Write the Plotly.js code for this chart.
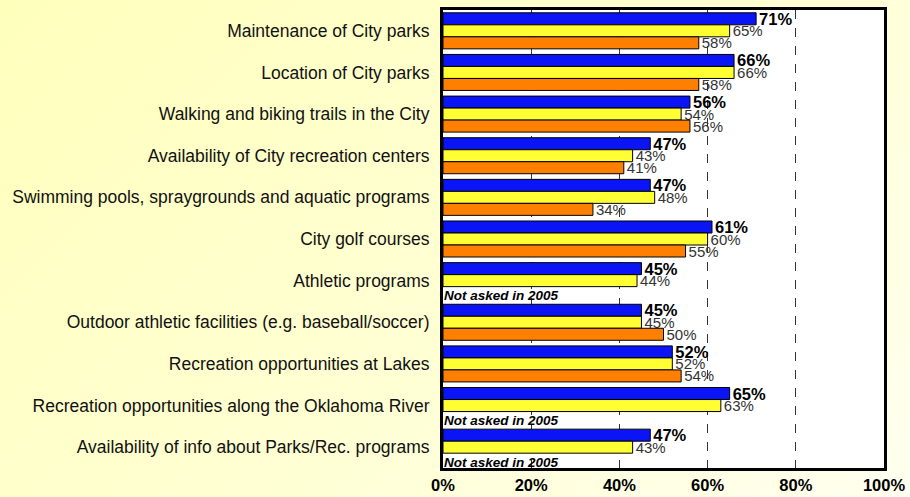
<!DOCTYPE html>
<html>
<head>
<meta charset="utf-8">
<script src="https://cdn.plot.ly/plotly-3.0.1.min.js"></script>
<style>
  html, body { margin: 0; padding: 0; }
  body { width: 910px; height: 497px; background: linear-gradient(135deg, #FFFFBC 0%, #FFFFD4 55%, #FFFFF0 100%); }
  #chart { width: 910px; height: 497px; }
</style>
</head>
<body>
<div id="chart"></div>
<script>
const categories = [
  "Maintenance of City parks",
  "Location of City parks",
  "Walking and biking trails in the City",
  "Availability of City recreation centers",
  "Swimming pools, spraygrounds and aquatic programs",
  "City golf courses",
  "Athletic programs",
  "Outdoor athletic facilities (e.g. baseball/soccer)",
  "Recreation opportunities at Lakes",
  "Recreation opportunities along the Oklahoma River",
  "Availability of info about Parks/Rec. programs"
];
const values2009 = [71, 66, 56, 47, 47, 61, 45, 45, 52, 65, 47];
const values2007 = [65, 66, 54, 43, 48, 60, 44, 45, 52, 63, 43];
const values2005 = [58, 58, 56, 41, 34, 55, null, 50, 54, null, null];
const seriesNames = ["2009", "2007", "2005"];
const xTickVals = [0, 20, 40, 60, 80, 100];
const xTickText = ["0%", "20%", "40%", "60%", "80%", "100%"];
const notAskedText = "Not asked in 2005";

const pct = v => (v === null ? "" : v + "%");
const font = "Liberation Sans, Arial, sans-serif";

function barTrace(name, vals, color, textFont) {
  return {
    type: "bar", orientation: "h", name: name,
    x: vals, y: categories,
    marker: { color: color, line: { color: "#000000", width: 1 } },
    text: vals.map(pct), textposition: "outside", constraintext: "none",
    cliponaxis: false,
    textfont: textFont,
    hoverinfo: "x+y"
  };
}

const traces = [
  barTrace(seriesNames[0], values2009, "#0A14F5", { family: font, size: 16.5, color: "#000000", weight: "bold" }),
  barTrace(seriesNames[1], values2007, "#FFFF33", { family: font, size: 15, color: "#333333" }),
  barTrace(seriesNames[2], values2005, "#FF8000", { family: font, size: 15, color: "#333333" })
];

const annotations = [];
values2005.forEach((v, i) => {
  if (v === null) {
    annotations.push({
      x: 0, y: categories[i], xref: "x", yref: "y",
      xanchor: "left", yanchor: "middle", xshift: -1, yshift: -15,
      text: notAskedText, showarrow: false,
      font: { family: font, size: 13.5, color: "#000000", weight: "bold", style: "italic" }
    });
  }
});

const layout = {
  width: 910, height: 497,
  margin: { l: 443, r: 26, t: 10, b: 29, pad: 0 },
  paper_bgcolor: "rgba(0,0,0,0)",
  plot_bgcolor: "#FFFFFF",
  showlegend: false,
  barmode: "group",
  bargap: 0.135,
  bargroupgap: 0,
  xaxis: {
    range: [0, 100], tickvals: xTickVals, ticktext: xTickText,
    showgrid: true, gridcolor: "#333333", gridwidth: 1, griddash: "dash",
    zeroline: false, ticks: "", ticklen: 0,
    showline: true, mirror: true, linecolor: "#000000", linewidth: 3,
    tickfont: { family: font, size: 16.5, color: "#000000", weight: "bold" },
    fixedrange: true
  },
  yaxis: {
    type: "category", autorange: "reversed",
    showgrid: false, zeroline: false, ticks: "",
    showline: true, mirror: true, linecolor: "#000000", linewidth: 3,
    tickfont: { family: font, size: 17.5, color: "#111111" },
    ticklabelstandoff: 7,
    fixedrange: true
  },
  annotations: annotations,
  font: { family: font }
};

Plotly.newPlot("chart", traces, layout, { displayModeBar: false, staticPlot: true });
</script>
</body>
</html>
